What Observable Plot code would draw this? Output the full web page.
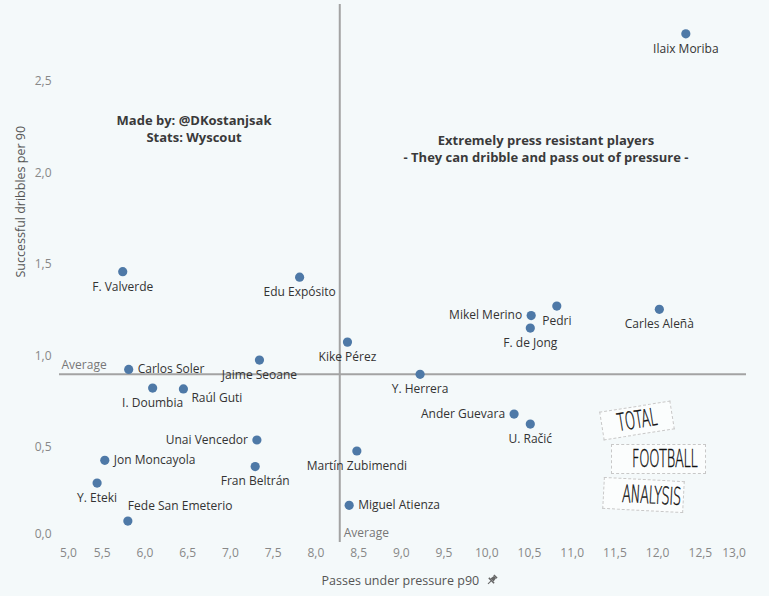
<!DOCTYPE html>
<html><head><meta charset="utf-8">
<script src="https://cdn.jsdelivr.net/npm/d3@7"></script>
<script src="https://cdn.jsdelivr.net/npm/@observablehq/plot@0.6"></script>
<style>
body{margin:0;background:#f4f9fa;}
#wrap{position:relative;width:769px;height:596px;font-family:"Open Sans",sans-serif;background:#f4f9fa;overflow:hidden;}
.note{position:absolute;font-weight:bold;font-size:13px;color:#3a3a3a;text-align:center;line-height:16.5px;white-space:nowrap;transform:translateX(-50%);}
.logo{position:absolute;border:1px dashed #c8c8c8;background:#fbfdfd;text-align:center;}
.logo span{display:inline-block;font-family:"DejaVu Sans",sans-serif;font-weight:200;font-size:21px;color:#111;transform:scale(0.62,1.15);letter-spacing:-0.5px;-webkit-text-stroke:0.4px #111;}
.xtitle{position:absolute;left:0;width:820px;top:572px;text-align:center;font-size:12.5px;color:#555;}
</style></head><body><div id="wrap"></div>
<script>
// ---- data ----
const players = ["Ilaix Moriba","F. Valverde","Edu Expósito","Kike Pérez","Jaime Seoane","Carlos Soler","I. Doumbia","Raúl Guti","Unai Vencedor","Jon Moncayola","Fran Beltrán","Y. Eteki","Fede San Emeterio","Martín Zubimendi","Miguel Atienza","Y. Herrera","Mikel Merino","Pedri","F. de Jong","Carles Aleñà","Ander Guevara","U. Račić"];
const passesUnderPressure = [12.33,5.74,7.81,8.37,7.34,5.81,6.09,6.45,7.31,5.53,7.29,5.44,5.80,8.48,8.39,9.22,10.52,10.82,10.51,12.02,10.32,10.51];
const successfulDribbles = [2.76,1.46,1.43,1.075,0.977,0.926,0.824,0.819,0.54,0.429,0.395,0.305,0.097,0.48,0.183,0.899,1.22,1.272,1.152,1.254,0.682,0.627];
const averagePasses = 8.28;
const averageDribbles = 0.90;
const xTicks = [5,5.5,6,6.5,7,7.5,8,8.5,9,9.5,10,10.5,11,11.5,12,12.5,13];
const yTicks = [0,0.5,1,1.5,2,2.5];

// ---- chart ----
const rows = players.map((name, i) => ({name, x: passesUnderPressure[i], y: successfulDribbles[i]}));
const place = {
  "Carlos Soler":"right","Jon Moncayola":"right","Miguel Atienza":"right","Raúl Guti":"rightLow",
  "Unai Vencedor":"left","Mikel Merino":"left","Ander Guevara":"left",
  "Fede San Emeterio":"aboveRight"
};
const pos = d => place[d.name] || "below";
const fmt = d => d.toFixed(1).replace(".", ",");
const inner = xTicks.slice(1, -1);
const lbl = (p, o) => Plot.text(rows.filter(d => pos(d) === p), {x: "x", y: "y", text: "name", fill: "#333", fontSize: 12, ...o});

const chart = Plot.plot({
  width: 769, height: 596,
  marginLeft: 59, marginRight: 23, marginTop: 4, marginBottom: 54,
  style: {background: "transparent", fontFamily: "Open Sans", fontSize: "12px"},
  x: {domain: [5, 13.04]},
  y: {domain: [-0.02, 2.92]},
  marks: [
    Plot.ruleX([averagePasses], {stroke: "#a3a3a3", strokeWidth: 2}),
    Plot.ruleY([averageDribbles], {stroke: "#a3a3a3", strokeWidth: 2}),
    Plot.text(["Average"], {y: [averageDribbles], frameAnchor: "left", textAnchor: "start", dx: 2, dy: -9, fill: "#777", fontSize: 12}),
    Plot.text(["Average"], {x: [averagePasses], frameAnchor: "bottom", textAnchor: "start", dx: 4, dy: -6, fill: "#777", fontSize: 12}),
    Plot.axisX(inner, {tickSize: 0, tickPadding: 6, tickFormat: fmt, fill: "#888", fontSize: 12, label: null}),
    Plot.axisX([xTicks[0]], {tickSize: 0, tickPadding: 6, tickFormat: fmt, fill: "#888", fontSize: 12, label: null, dx: 9}),
    Plot.axisX([xTicks[xTicks.length - 1]], {tickSize: 0, tickPadding: 6, tickFormat: fmt, fill: "#888", fontSize: 12, label: null, dx: -9}),
    Plot.axisY(yTicks.slice(1), {tickSize: 0, tickPadding: 8, tickFormat: fmt, fill: "#888", fontSize: 12, label: null}),
    Plot.axisY([yTicks[0]], {tickSize: 0, tickPadding: 8, tickFormat: fmt, fill: "#888", fontSize: 12, label: null, dy: -5}),
    Plot.text(["Successful dribbles per 90"], {frameAnchor: "left", rotate: -90, dx: -39, dy: 4, fill: "#555", fontSize: 12.5}),
    Plot.dot(rows, {x: "x", y: "y", r: 4.6, fill: "#4e79a7", stroke: "none"}),
    lbl("below", {dy: 15}),
    lbl("right", {textAnchor: "start", dx: 9}),
    lbl("rightLow", {textAnchor: "start", dx: 8, dy: 9}),
    lbl("left", {textAnchor: "end", dx: -9}),
    lbl("aboveRight", {textAnchor: "start", dx: 0, dy: -15})
  ]
});
const wrap = document.getElementById("wrap");
wrap.appendChild(chart);
chart.style.position = "absolute"; chart.style.left = "0"; chart.style.top = "0";

wrap.insertAdjacentHTML("beforeend", `
<div class="note" style="left:194px;top:112px">Made by: @DKostanjsak<br>Stats: Wyscout</div>
<div class="note" style="left:546px;top:132px">Extremely press resistant players<br>- They can dribble and pass out of pressure -</div>
<div class="xtitle">Passes under pressure p90 <svg width="12" height="12" viewBox="0 0 16 16" style="vertical-align:-1px;margin-left:4px"><g transform="rotate(45 8 8)" fill="#666"><rect x="5" y="0.5" width="6" height="2"/><path d="M6 2.5h4l1 5.5H5z"/><rect x="3" y="8" width="10" height="2"/><rect x="7.3" y="10" width="1.4" height="5.5"/></g></svg></div>
<div class="logo" style="left:601px;top:406px;width:70px;height:27px;line-height:27px;transform:rotate(-9deg)"><span>TOTAL</span></div>
<div class="logo" style="left:611px;top:444px;width:93px;height:28px;line-height:28px;"><span>FOOTBALL</span></div>
<div class="logo" style="left:603px;top:479px;width:79px;height:30px;line-height:30px;transform:rotate(3deg)"><span>ANALYSIS</span></div>
`);
</script></body></html>
